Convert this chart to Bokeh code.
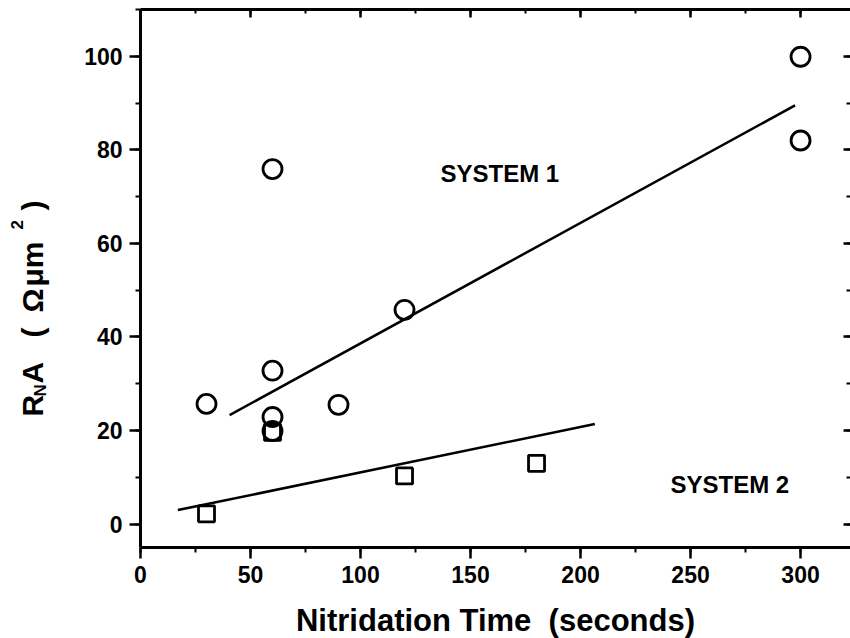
import numpy as np
from bokeh.plotting import figure
from bokeh.layouts import row
from bokeh.models import Range1d, LinearAxis, Label, SingleIntervalTicker, CustomJSTickFormatter
from bokeh.core.properties import value
from bokeh.embed import file_html
from bokeh.resources import INLINE

# ---- data ----
sys1_time = [30, 60, 60, 60, 60, 90, 120, 300, 300]
sys1_ra = [25.7, 75.9, 32.8, 22.9, 19.9, 25.5, 45.8, 99.9, 82.0]
sys2_time = [30, 60, 120, 180]
sys2_ra = [2.2, 19.6, 10.3, 13.0]
fit1_time = [40.5, 297.5]
fit1_ra = [23.3, 89.5]
fit2_time = [17.0, 206.5]
fit2_ra = [3.0, 21.4]
x_tick_step = 50
y_tick_step = 20
x_title = "Nitridation Time \u00a0(seconds)"
sys1_label = "SYSTEM 1"
sys2_label = "SYSTEM 2"
y_title_main = ["R", "A", "(", "\u03a9", "\u03bcm", ")"]
y_title_small = ["N", "2"]

FONT = "Liberation Sans"
X0, X1 = 0, 322.7
Y0, Y1 = -5, 110
FW, FH = 710, 538
LW = 60  # width of the y-title strip

# ---- left strip holding the rotated y-axis title ----
t = figure(frame_width=LW, frame_height=638, x_range=Range1d(0, LW),
           y_range=Range1d(0, 638), output_backend="svg", toolbar_location=None,
           min_border=0)
t.axis.visible = False
t.grid.visible = False
t.outline_line_color = None
t.background_fill_color = "white"
t.border_fill_color = "white"
# positions (strip pixels: x from left, y from bottom)
main_x = [32, 32, 32, 32, 32, 32]
main_y = [638 - v for v in [407, 374, 328, 303, 277, 201]]
small_x = [40, 16]
small_y = [638 - v for v in [387, 220]]
t.text(main_x, main_y, text=y_title_main, angle=np.pi / 2,
       text_align="left", text_baseline="alphabetic", text_font=value(FONT),
       text_font_style="bold", text_font_size="30px", text_color="black")
t.text(small_x, small_y, text=y_title_small, angle=np.pi / 2,
       text_align="left", text_baseline="alphabetic", text_font=value(FONT),
       text_font_style="bold", text_font_size="17px", text_color="black")

# ---- main chart ----
p = figure(frame_width=FW, frame_height=FH,
           x_range=Range1d(X0, X1), y_range=Range1d(Y0, Y1),
           output_backend="svg", toolbar_location=None,
           min_border_left=140 - LW, min_border_right=0, min_border_top=9,
           min_border_bottom=91)
p.xgrid.visible = False
p.ygrid.visible = False
p.outline_line_color = None
p.background_fill_color = "white"
p.border_fill_color = "white"

def style_axis(ax, labels=True, inward=False):
    ax.axis_line_width = 3
    ax.axis_line_color = "black"
    ax.major_tick_line_width = 2.5
    ax.minor_tick_line_width = 2
    ax.major_tick_line_color = "black"
    ax.minor_tick_line_color = "black"
    if inward:
        ax.major_tick_in = 8
        ax.major_tick_out = 0
        ax.minor_tick_in = 4
        ax.minor_tick_out = 0
    else:
        ax.major_tick_in = 0
        ax.major_tick_out = 11
        ax.minor_tick_in = 0
        ax.minor_tick_out = 5
    if labels:
        ax.major_label_text_font = FONT
        ax.major_label_text_font_style = "bold"
        ax.major_label_text_font_size = "23px"
        ax.major_label_text_color = "black"
        ax.major_label_standoff = 7
    else:
        ax.formatter = CustomJSTickFormatter(code="return ''")
        ax.major_label_text_font_size = "0px"
        ax.major_label_standoff = 0

p.xaxis.ticker = SingleIntervalTicker(interval=x_tick_step, num_minor_ticks=2)
p.yaxis.ticker = SingleIntervalTicker(interval=y_tick_step, num_minor_ticks=2)
style_axis(p.xaxis[0])
style_axis(p.yaxis[0])
p.xaxis.axis_label = x_title
p.xaxis.axis_label_text_font = FONT
p.xaxis.axis_label_text_font_style = "bold"
p.xaxis.axis_label_text_font_size = "31px"
p.xaxis.axis_label_text_color = "black"
p.xaxis.axis_label_standoff = 17

top = LinearAxis(ticker=SingleIntervalTicker(interval=x_tick_step, num_minor_ticks=2))
style_axis(top, labels=False, inward=True)
p.add_layout(top, "above")
right = LinearAxis(ticker=SingleIntervalTicker(interval=y_tick_step, num_minor_ticks=2))
style_axis(right, labels=False, inward=True)
right.axis_line_alpha = 0
right.major_tick_in = 7
p.add_layout(right, "right")

p.line(fit1_time, fit1_ra, line_color="black", line_width=2.5)
p.line(fit2_time, fit2_ra, line_color="black", line_width=2.5)
p.scatter(sys2_time, sys2_ra, marker="square", size=16, fill_color=None,
          line_color="black", line_width=2.8)
p.scatter(sys1_time, sys1_ra, marker="circle", size=19, fill_color=None,
          line_color="black", line_width=2.8)

def dx(px):
    return X0 + (px - 140) / FW * (X1 - X0)

def dy(py):
    return Y0 + (547 - py) / FH * (Y1 - Y0)

p.add_layout(Label(x=dx(440), y=dy(173), text=sys1_label, text_font=FONT,
                   text_font_style="bold", text_font_size="24px",
                   text_align="left", text_baseline="middle", text_color="black"))
p.add_layout(Label(x=dx(670), y=dy(484), text=sys2_label, text_font=FONT,
                   text_font_style="bold", text_font_size="24px",
                   text_align="left", text_baseline="middle", text_color="black"))

layout = row(t, p, spacing=0)
open("out.html", "w").write(file_html(layout, INLINE))
